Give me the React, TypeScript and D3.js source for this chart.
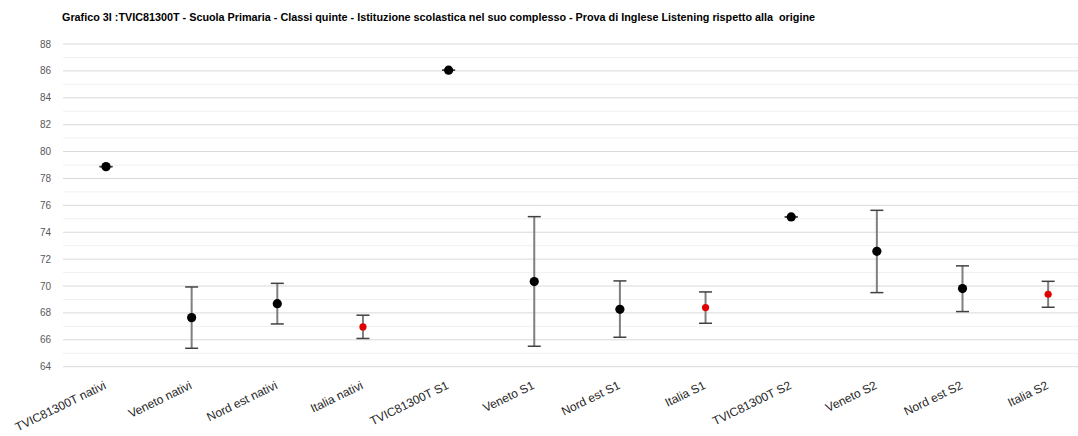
import React from "react";
import * as d3 from "d3";

const title =
  "Grafico 3I :TVIC81300T - Scuola Primaria - Classi quinte - Istituzione scolastica nel suo complesso - Prova di Inglese Listening rispetto alla  origine";

const categories = [
  "TVIC81300T nativi",
  "Veneto nativi",
  "Nord est nativi",
  "Italia nativi",
  "TVIC81300T S1",
  "Veneto S1",
  "Nord est S1",
  "Italia S1",
  "TVIC81300T S2",
  "Veneto S2",
  "Nord est S2",
  "Italia S2",
];

const means = [78.88, 67.65, 68.69, 66.96, 86.05, 70.33, 68.27, 68.4, 75.14, 72.58, 69.81, 69.39];
const lowers = [78.88, 65.37, 67.18, 66.1, 86.05, 65.52, 66.19, 67.23, 75.14, 69.51, 68.1, 68.42];
const uppers = [78.88, 69.93, 70.2, 67.83, 86.05, 75.16, 70.38, 69.56, 75.14, 75.63, 71.5, 70.35];

const yTicks = [64, 66, 68, 70, 72, 74, 76, 78, 80, 82, 84, 86, 88];

const W = 1078;
const H = 436;
const plotLeft = 63;
const plotTop = 44;
const plotBottom = 366.7;

export default function App() {
  const bandW = 85.65;
  const x = d3
    .scalePoint<string>()
    .domain(categories)
    .range([106, 106 + bandW * (categories.length - 1)]);
  const y = d3.scaleLinear().domain([64, 88]).range([plotBottom, plotTop]);
  const minor = d3.range(65, 88, 2);
  const font = "'Liberation Sans', Arial, sans-serif";

  return (
    <svg
      width={W}
      height={H}
      style={{ position: "absolute", left: 0, top: 0, background: "#fff" }}
      fontFamily={font}
    >
      <rect x={0} y={0} width={W} height={H} fill="#fff" />
      <text x={62} y={21} fontSize={10.8} fontWeight="bold" fill="#000" style={{ whiteSpace: "pre" }}>
        {title}
      </text>
      {minor.map((v) => (
        <line key={"m" + v} x1={plotLeft} x2={W} y1={y(v)} y2={y(v)} stroke="#f0f0f0" strokeWidth={1} />
      ))}
      {yTicks.map((v) => (
        <g key={"t" + v}>
          <line x1={plotLeft} x2={W} y1={y(v)} y2={y(v)} stroke="#d9d9d9" strokeWidth={1} />
          <text x={51} y={y(v) + 3.5} fontSize={10} fill="#595959" textAnchor="end">
            {v}
          </text>
        </g>
      ))}
      {categories.map((c, i) => {
        const cx = x(c)!;
        const isRef = c.startsWith("Italia");
        const hasErr = uppers[i] - lowers[i] > 0.01;
        return (
          <g key={c}>
            {hasErr && (
              <line x1={cx} x2={cx} y1={y(uppers[i])} y2={y(lowers[i])} stroke="#7f7f7f" strokeWidth={2} />
            )}
            <line x1={cx - 6.5} x2={cx + 6.5} y1={y(uppers[i])} y2={y(uppers[i])} stroke="#404040" strokeWidth={1.5} />
            <line x1={cx - 6.5} x2={cx + 6.5} y1={y(lowers[i])} y2={y(lowers[i])} stroke="#404040" strokeWidth={1.5} />
            <circle cx={cx} cy={y(means[i])} r={isRef ? 3.6 : 4.6} fill={isRef ? "#e00000" : "#000"} />
            <text
              transform={`translate(${cx + 1},${388}) rotate(-26)`}
              textAnchor="end"
              fontSize={12}
              fill="#262626"
            >
              {c}
            </text>
          </g>
        );
      })}
    </svg>
  );
}
